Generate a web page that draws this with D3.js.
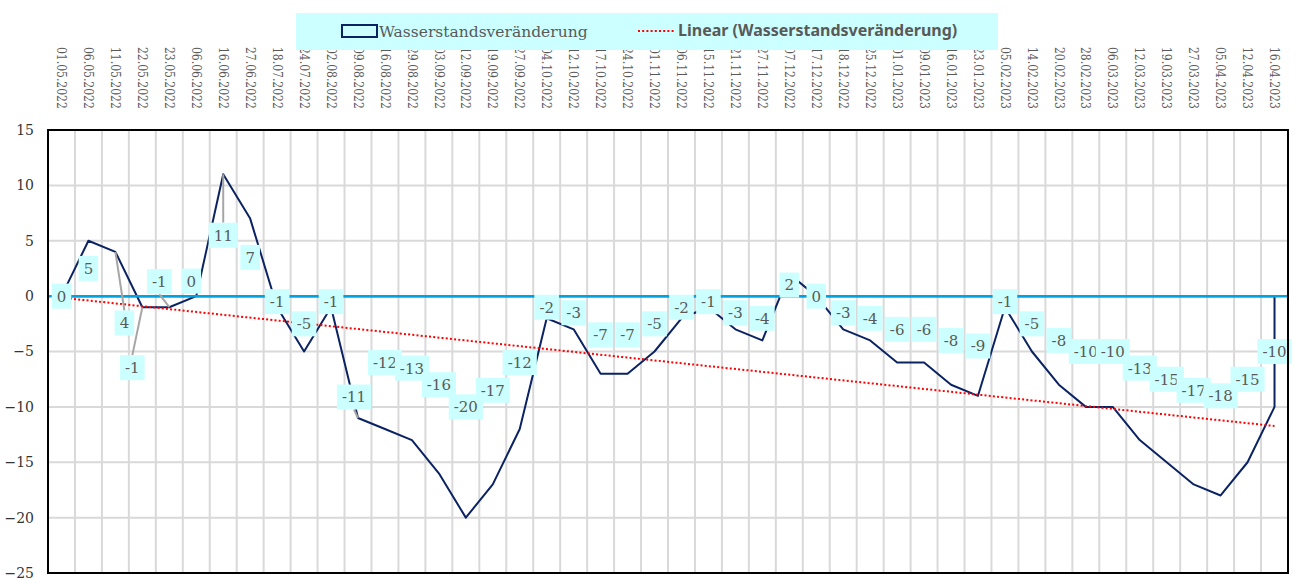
<!DOCTYPE html>
<html>
<head>
<meta charset="utf-8">
<script src="https://cdn.jsdelivr.net/npm/d3@7"></script>
<style>
  body { margin: 0; background: #fff; }
  svg { display: block; }
</style>
</head>
<body>
<div id="chart"></div>
<script>
const w = 1299
const h = 579
const plot = { left: 48, right: 1288, top: 130, bottom: 573 }

// Messdaten: Datum und Wasserstandsveränderung
const dates = [
  "01.05.2022", "06.05.2022", "11.05.2022", "22.05.2022", "23.05.2022", "06.06.2022",
  "16.06.2022", "27.06.2022", "18.07.2022", "24.07.2022", "02.08.2022", "09.08.2022",
  "16.08.2022", "29.08.2022", "03.09.2022", "12.09.2022", "19.09.2022", "27.09.2022",
  "04.10.2022", "12.10.2022", "17.10.2022", "24.10.2022", "01.11.2022", "06.11.2022",
  "15.11.2022", "21.11.2022", "27.11.2022", "07.12.2022", "17.12.2022", "18.12.2022",
  "25.12.2022", "01.01.2023", "09.01.2023", "16.01.2023", "23.01.2023", "05.02.2023",
  "14.02.2023", "20.02.2023", "28.02.2023", "06.03.2023", "12.03.2023", "19.03.2023",
  "27.03.2023", "05.04.2023", "12.04.2023", "16.04.2023"
]
const values = [
  0, 5, 4, -1, -1, 0,
  11, 7, -1, -5, -1, -11,
  -12, -13, -16, -20, -17, -12,
  -2, -3, -7, -7, -5, -2,
  -1, -3, -4, 2, 0, -3,
  -4, -6, -6, -8, -9, -1,
  -5, -8, -10, -10, -13, -15,
  -17, -18, -15, -10
]
const yTicks = [15, 10, 5, 0, -5, -10, -15, -20, -25]
const seriesName = "Wasserstandsveränderung"
const trendName = "Linear (Wasserstandsveränderung)"

// manually moved data labels (index -> pixel shift), with leader lines
const labelNudge = { 2: [9, 49], 3: [-10, 66], 4: [-10, -20], 5: [-5, -15], 11: [-4, 40] }
const leaderIdx = [2, 3, 4, 6, 11]

const navy = "#0b2363"
const cyan = "#ccffff"

const data = dates.map((d, i) => ({ date: d, value: values[i], i: i }))

const svg = d3.select("#chart").append("svg")
  .attr("width", w)
  .attr("height", h)

const x = d3.scaleBand()
  .domain(dates)
  .range([plot.left, plot.right])
  .padding(0)

const y = d3.scaleLinear()
  .domain([-25, 15])
  .range([plot.bottom, plot.top])

const cx = d => x(d) + x.bandwidth() / 2

// --- Gitternetz ---
const grid = svg.append("g").attr("stroke", "#d9d9d9").attr("stroke-width", 2)
grid.selectAll(".vg")
  .data(dates.slice(1))
  .join("line")
    .attr("x1", d => x(d)).attr("x2", d => x(d))
    .attr("y1", plot.top).attr("y2", plot.bottom)
grid.selectAll(".hg")
  .data(yTicks.filter(t => t !== 0 && t !== 15 && t !== -25))
  .join("line")
    .attr("x1", plot.left).attr("x2", plot.right)
    .attr("y1", d => y(d)).attr("y2", d => y(d))

// --- Fläche (nur Umriss) ---
const area = d3.area()
  .x(d => cx(d.date))
  .y0(y(0))
  .y1(d => y(d.value))

svg.append("path")
  .datum(data)
  .attr("d", area)
  .attr("fill", "none")
  .attr("stroke", navy)
  .attr("stroke-width", 2)
  .attr("stroke-linejoin", "round")

// Nulllinie
svg.append("line")
  .attr("x1", plot.left).attr("x2", plot.right)
  .attr("y1", y(0)).attr("y2", y(0))
  .attr("stroke", "#00a3e0")
  .attr("stroke-width", 2.5)

// --- Lineare Trendlinie (Regression über Index) ---
const n = values.length
const xs = values.map((v, i) => i + 1)
const mx = d3.mean(xs)
const my = d3.mean(values)
const slope = d3.sum(xs, (xi, k) => (xi - mx) * (values[k] - my)) / d3.sum(xs, xi => (xi - mx) ** 2)
const icpt = my - slope * mx
const trend = [0, n - 1].map(i => ({ date: dates[i], value: icpt + slope * (i + 1) }))

svg.append("path")
  .datum(trend)
  .attr("d", d3.line().x(d => cx(d.date)).y(d => y(d.value)))
  .attr("stroke", "#ff0000")
  .attr("stroke-width", 2)
  .attr("stroke-dasharray", "2,2.2")
  .attr("fill", "none")

// --- Datenbeschriftungen ---
const boxH = 25
const labelPos = data.map(d => {
  const nud = labelNudge[d.i] || [0, 0]
  return { ...d, lx: cx(d.date) + nud[0], ly: y(d.value / 2) + nud[1] }
})

// Führungslinien
svg.append("g").selectAll("line")
  .data(labelPos.filter(d => leaderIdx.includes(d.i)))
  .join("line")
    .attr("x1", d => cx(d.date))
    .attr("y1", d => y(d.value))
    .attr("x2", d => d.lx)
    .attr("y2", d => d.ly > y(d.value) ? d.ly - boxH / 2 : d.ly + boxH / 2)
    .attr("stroke", "#a6a6a6")
    .attr("stroke-width", 2)

const labels = svg.append("g")
  .attr("font-family", "'DejaVu Serif', serif")
  .attr("font-size", 15)

labelPos.forEach(d => {
  const g = labels.append("g").attr("transform", `translate(${d.lx},${d.ly})`)
  const t = g.append("text")
    .attr("text-anchor", "middle")
    .attr("dy", "0.36em")
    .attr("fill", "#595959")
    .text(d.value)
  const tw = t.node().getComputedTextLength()
  g.insert("rect", "text")
    .attr("x", -tw / 2 - 5)
    .attr("y", -boxH / 2)
    .attr("width", tw + 10)
    .attr("height", boxH)
    .attr("fill", cyan)
})

// --- Achsen ---
const yAxis = svg.append("g")
  .attr("transform", `translate(${plot.left - 14},0)`)
  .call(d3.axisLeft(y).tickValues(yTicks).tickSize(0).tickPadding(0))
yAxis.select(".domain").remove()
yAxis.selectAll("text")
  .attr("font-family", "'DejaVu Serif', serif")
  .attr("font-size", 14)
  .attr("fill", "#333333")

const xAxis = svg.append("g")
  .attr("transform", "translate(0,47)")
  .call(d3.axisTop(x).tickSize(0))
xAxis.select(".domain").remove()
xAxis.selectAll("text")
  .attr("transform", "rotate(90)")
  .attr("x", 0)
  .attr("y", 0)
  .attr("dy", "0.36em")
  .attr("text-anchor", "start")
  .attr("font-family", "'DejaVu Serif Condensed', 'DejaVu Serif', serif")
  .attr("font-size", 12)
  .attr("fill", "#595959")

// Rahmen
svg.append("rect")
  .attr("x", plot.left).attr("y", plot.top)
  .attr("width", plot.right - plot.left)
  .attr("height", plot.bottom - plot.top)
  .attr("fill", "none")
  .attr("stroke", "#000")
  .attr("stroke-width", 2)

// --- Legende ---
const legend = svg.append("g")
legend.append("rect")
  .attr("x", 296).attr("y", 13)
  .attr("width", 702).attr("height", 37)
  .attr("fill", cyan)
legend.append("rect")
  .attr("x", 342).attr("y", 25)
  .attr("width", 35).attr("height", 12)
  .attr("fill", "none")
  .attr("stroke", navy)
  .attr("stroke-width", 2)
legend.append("text")
  .attr("x", 379).attr("y", 37)
  .attr("font-family", "'DejaVu Serif', serif")
  .attr("font-size", 15.5)
  .attr("fill", "#595959")
  .text(seriesName)
legend.append("line")
  .attr("x1", 638).attr("x2", 675)
  .attr("y1", 31).attr("y2", 31)
  .attr("stroke", "#ff0000")
  .attr("stroke-width", 2)
  .attr("stroke-dasharray", "2,2.2")
legend.append("text")
  .attr("x", 678).attr("y", 36)
  .attr("font-family", "'Noto Sans', sans-serif")
  .attr("font-weight", "bold")
  .attr("font-size", 16)
  .attr("fill", "#595959")
  .text(trendName)
</script>
</body>
</html>
